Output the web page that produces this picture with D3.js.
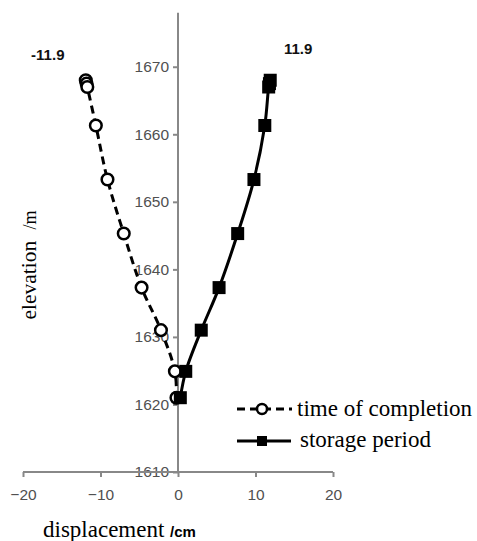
<!DOCTYPE html>
<html>
<head>
<meta charset="utf-8">
<script src="https://cdn.jsdelivr.net/npm/d3@7"></script>
<style>
  html, body { margin: 0; padding: 0; background: #fff; }
  svg { display: block; }
</style>
</head>
<body>
<div id="chart"></div>
<script>
// Elevations shared by both series (m)
const elevations = [1668.0, 1667.5, 1667.0, 1661.3, 1653.3, 1645.3, 1637.3, 1631.0, 1624.9, 1621.0];
// Displacement at time of completion (cm)
const completion = [-11.9, -11.8, -11.7, -10.6, -9.1, -7.0, -4.7, -2.2, -0.4, -0.2];
// Displacement during storage period (cm)
const storage = [11.9, 11.8, 11.7, 11.2, 9.8, 7.7, 5.3, 3.0, 1.0, 0.3];
const xTicks = [-20, -10, 0, 10, 20];
const yTicks = [1610, 1620, 1630, 1640, 1650, 1660, 1670];
const labels = [{ text: '-11.9', x: -16.8, y: 1671.0 }, { text: '11.9', x: 15.5, y: 1671.9 }];

const width = 477, height = 541;
const svg = d3.select('#chart').append('svg')
  .attr('width', width).attr('height', height);

const x = d3.scaleLinear().domain([-20, 20]).range([23, 333]);
const y = d3.scaleLinear().domain([1610, 1678]).range([472, 12.7]);

const axisColor = '#888';
const tickColor = '#505050';
const sans = '"Liberation Sans", Arial, sans-serif';
const serif = '"Liberation Serif", "Times New Roman", serif';

// Y axis, crossing at x = 0
const yAxis = svg.append('g')
  .attr('transform', `translate(${x(0)},0)`)
  .call(d3.axisLeft(y).tickValues(yTicks).tickSize(5).tickPadding(4).tickFormat(d3.format('d')));
yAxis.select('.domain').attr('stroke', axisColor).attr('stroke-width', 2).attr('d', `M0,${y(1610)}V${y(1678)}`);
yAxis.selectAll('.tick line').attr('stroke', axisColor).attr('stroke-width', 2);
yAxis.selectAll('.tick text')
  .attr('font-family', sans).attr('font-size', 15.5).attr('fill', tickColor);

// X axis at the bottom
const xAxis = svg.append('g')
  .attr('transform', `translate(0,${y(1610)})`)
  .call(d3.axisBottom(x).tickValues(xTicks).tickSize(5).tickPadding(12).tickFormat(d => d < 0 ? '\u2212' + Math.abs(d) : d));
xAxis.select('.domain').attr('stroke', axisColor).attr('stroke-width', 2).attr('d', `M${x(-20)},0H${x(20)}`);
xAxis.selectAll('.tick line').attr('stroke', axisColor).attr('stroke-width', 2);
xAxis.selectAll('.tick text')
  .attr('font-family', sans).attr('font-size', 15.5).attr('fill', tickColor);

// Series
const line = d3.line().curve(d3.curveCatmullRom.alpha(0.5));
const ptsC = completion.map((v, i) => [x(v), y(elevations[i])]);
const ptsS = storage.map((v, i) => [x(v), y(elevations[i])]);

svg.append('path').attr('d', line(ptsC))
  .attr('fill', 'none').attr('stroke', '#000').attr('stroke-width', 3)
  .attr('stroke-dasharray', '8,5');
svg.append('path').attr('d', line(ptsS))
  .attr('fill', 'none').attr('stroke', '#000').attr('stroke-width', 3);

svg.append('g').selectAll('circle').data(ptsC).join('circle')
  .attr('cx', d => d[0]).attr('cy', d => d[1]).attr('r', 5.8)
  .attr('fill', '#fff').attr('stroke', '#000').attr('stroke-width', 2.5);

svg.append('g').selectAll('rect').data(ptsS).join('rect')
  .attr('x', d => d[0] - 6.5).attr('y', d => d[1] - 6.5)
  .attr('width', 13).attr('height', 13).attr('fill', '#000');

// Value annotations
svg.append('g').selectAll('text').data(labels).join('text')
  .attr('x', d => x(d.x)).attr('y', d => y(d.y))
  .attr('text-anchor', 'middle')
  .attr('font-family', sans).attr('font-size', 15).attr('font-weight', 700)
  .attr('fill', '#111').text(d => d.text);

// Axis titles
const yt = svg.append('text')
  .attr('transform', 'translate(36,265) rotate(-90)')
  .attr('text-anchor', 'middle')
  .attr('font-family', serif).attr('font-size', 21.5).attr('fill', '#000');
yt.append('tspan').text('elevation ');
yt.append('tspan').attr('dx', 6).attr('font-size', 18).text('/m');

const xt = svg.append('text')
  .attr('x', 43).attr('y', 537)
  .attr('font-family', serif).attr('font-size', 23).attr('fill', '#000');
xt.append('tspan').text('displacement ');
xt.append('tspan').attr('font-family', sans).attr('font-size', 15).attr('font-weight', 700).text('/cm');

// Legend
const legend = svg.append('g');
legend.append('line').attr('x1', 237).attr('x2', 292).attr('y1', 409).attr('y2', 409)
  .attr('stroke', '#000').attr('stroke-width', 3).attr('stroke-dasharray', '8,5');
legend.append('circle').attr('cx', 262).attr('cy', 409).attr('r', 5)
  .attr('fill', '#fff').attr('stroke', '#000').attr('stroke-width', 2.5);
legend.append('text').attr('x', 297).attr('y', 416)
  .attr('font-family', serif).attr('font-size', 23).text('time of completion');

legend.append('line').attr('x1', 237).attr('x2', 291).attr('y1', 441).attr('y2', 441)
  .attr('stroke', '#000').attr('stroke-width', 3);
legend.append('rect').attr('x', 257).attr('y', 436).attr('width', 10).attr('height', 10).attr('fill', '#000');
legend.append('text').attr('x', 300).attr('y', 447)
  .attr('font-family', serif).attr('font-size', 23).text('storage period');
</script>
</body>
</html>
